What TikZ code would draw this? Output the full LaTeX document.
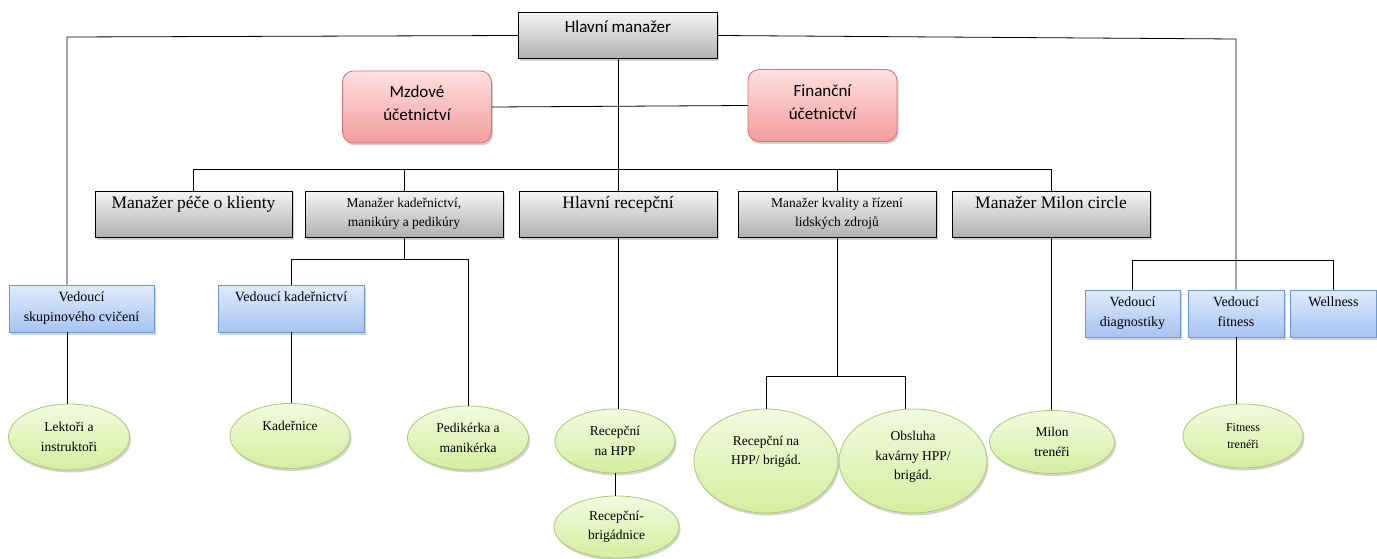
\documentclass[tikz,border=0pt]{standalone}
\usepackage{fontspec}
\setmainfont{Liberation Serif}
\newfontfamily\timesf{Liberation Serif}
\newfontfamily\calibri{Carlito}
\usetikzlibrary{shapes.geometric,shadows}

\definecolor{greytop}{HTML}{F4F4F4}
\definecolor{greybot}{HTML}{B0B0B0}
\definecolor{pinktop}{HTML}{FFE0E0}
\definecolor{pinkbot}{HTML}{F29C9C}
\definecolor{pinkline}{HTML}{D8726F}
\definecolor{bluetop}{HTML}{E0EBFC}
\definecolor{bluebot}{HTML}{A6C3F0}
\definecolor{blueline}{HTML}{6B97D4}
\definecolor{greentop}{HTML}{F2FAE0}
\definecolor{greenbot}{HTML}{D4EE9E}
\definecolor{greenline}{HTML}{A9CB6E}

\tikzset{
  shadowed/.style={drop shadow={shadow xshift=1.5pt, shadow yshift=-2.5pt, opacity=0.35}},
  greybox/.style={rectangle, draw=black, line width=0.8pt, top color=greytop, bottom color=greybot, minimum height=46pt, inner sep=0pt, shadowed},
  pinkbox/.style={rectangle, rounded corners=11pt, draw=pinkline, line width=0.8pt, top color=pinktop, bottom color=pinkbot, minimum width=149pt, minimum height=72pt, inner sep=0pt, shadowed},
  bluebox/.style={rectangle, draw=blueline, line width=0.8pt, top color=bluetop, bottom color=bluebot, minimum height=47pt, inner sep=0pt, shadowed},
  oval/.style={ellipse, draw=greenline, line width=0.8pt, top color=greentop, bottom color=greenbot, inner sep=0pt, shadowed},
  toptxt/.style={anchor=north, align=center, inner sep=2pt},
  midtxt/.style={anchor=center, align=center, inner sep=2pt},
  fcal/.style={font=\calibri\fontsize{17}{23}\selectfont},
  fbig/.style={font=\timesf\fontsize{17.5}{21}\selectfont},
  fsml/.style={font=\timesf\fontsize{13.5}{19.5}\selectfont},
  fblue/.style={font=\timesf\fontsize{14}{20}\selectfont},
  fov/.style={font=\timesf\fontsize{13.5}{19.5}\selectfont},
  ftiny/.style={font=\timesf\fontsize{12}{17}\selectfont},
  link/.style={draw=black, line width=0.8pt}
}

\begin{document}
\begin{tikzpicture}[x=1pt, y=-1pt]
    \useasboundingbox (0,0) rectangle (1377,559);

    \node[greybox, minimum width=199pt, label={[toptxt, fcal, yshift=-6pt]north:Hlavní manažer}] at (618,35.5) (hm) {};
    \node[pinkbox, label={[midtxt, fcal, yshift=3.5pt]center:Mzdové\\účetnictví}] at (417,107) (mzd) {};
    \node[pinkbox, label={[midtxt, fcal, yshift=3.5pt]center:Finanční\\účetnictví}] at (822.5,105.5) (fin) {};

    \node[greybox, minimum width=197pt, label={[toptxt, fbig, yshift=-4pt]north:Manažer péče o klienty}] at (193.5,214) (pece) {};
    \node[greybox, minimum width=198pt, label={[toptxt, fsml, yshift=-5pt]north:Manažer kadeřnictví,\\manikúry a pedikúry}] at (404,214) (kad) {};
    \node[greybox, minimum width=198pt, label={[toptxt, fbig, yshift=-4pt]north:Hlavní recepční}] at (618,214) (hr) {};
    \node[greybox, minimum width=198pt, label={[toptxt, fsml, yshift=-5pt]north:Manažer kvality a řízení\\lidských zdrojů}] at (837,214) (kval) {};
    \node[greybox, minimum width=198pt, label={[toptxt, fbig, yshift=-4pt]north:Manažer Milon circle}] at (1051,214) (milon) {};

    \node[bluebox, minimum width=145pt, label={[toptxt, fblue, yshift=-4.5pt]north:Vedoucí\\skupinového cvičení}] at (81.5,308.5) (vsc) {};
    \node[bluebox, minimum width=146pt, label={[toptxt, fblue, yshift=-4.5pt]north:Vedoucí kadeřnictví}] at (291,308.5) (vk) {};
    \node[bluebox, minimum width=95pt, label={[toptxt, fblue, yshift=-4.5pt]north:Vedoucí\\diagnostiky}] at (1132.5,313.5) (vd) {};
    \node[bluebox, minimum width=96pt, label={[toptxt, fblue, yshift=-4.5pt]north:Vedoucí\\fitness}] at (1236,313.5) (vf) {};
    \node[bluebox, minimum width=86pt, label={[toptxt, fblue, yshift=-4.5pt]north:Wellness}] at (1333.5,313.5) (wel) {};

    \node[oval, minimum width=121pt, minimum height=66pt, label={[midtxt, fov]center:Lektoři a\\instruktoři}] at (69,437) (lektori) {};
    \node[oval, minimum width=120pt, minimum height=65pt, label={[midtxt, fov, yshift=10pt]center:Kadeřnice}] at (290,436) (kadernice) {};
    \node[oval, minimum width=121pt, minimum height=64pt, label={[midtxt, fov]center:Pedikérka a\\manikérka}] at (468,438) (pedik) {};
    \node[oval, minimum width=120pt, minimum height=64pt, label={[midtxt, fov]center:Recepční\\na HPP}] at (615,441) (rhpp) {};
    \node[oval, minimum width=125pt, minimum height=62pt, label={[midtxt, fov]center:Recepční-\\brigádnice}] at (616.5,527) (rbrig) {};
    \node[oval, minimum width=144pt, minimum height=104pt, label={[midtxt, fov, yshift=9pt]center:Recepční na\\HPP/ brigád.}] at (766,461) (rhb) {};
    \node[oval, minimum width=148pt, minimum height=104pt, label={[midtxt, fov, yshift=4pt]center:Obsluha\\kavárny HPP/\\brigád.}] at (913,461) (obs) {};
    \node[oval, minimum width=125pt, minimum height=63pt, label={[midtxt, fov]center:Milon\\trenéři}] at (1052,442) (mt) {};
    \node[oval, minimum width=120pt, minimum height=64pt, label={[midtxt, ftiny]center:Fitness\\trenéři}] at (1243,436) (ft) {};

    \coordinate (lt) at (67,37);
    \coordinate (rt) at (1236,39);
    \coordinate (bar1) at (617,169);
    \coordinate (bar2) at (407,259);
    \coordinate (bar3) at (837,376);
    \coordinate (bar4) at (1236,260);

    \draw[link] (hm.west) -- (lt) -- (lt |- vsc.north);
    \draw[link] (hm.east) -- (rt) -- (rt |- vf.north);
    \draw[link] (hm.south) -- (hr.north);
    \draw[link] (mzd.east) -- (fin.west);
    \draw[link] (pece.north) -- (pece.north |- bar1) -- (milon.north |- bar1) -- (milon.north);
    \draw[link] (kad.north) -- (kad.north |- bar1);
    \draw[link] (kval.north) -- (kval.north |- bar1);

    \draw[link] (lt |- vsc.south) -- (lt |- lektori.north);
    \draw[link] (kad.south) -- (kad.south |- bar2);
    \draw[link] (vk.north) -- (vk.north |- bar2) -- (pedik.north |- bar2) -- (pedik.north);
    \draw[link] (vk.south) -- (vk.south |- kadernice.north);
    \draw[link] (hr.south) -- (hr.south |- rhpp.north);
    \draw[link] (rhpp.south) -- (rhpp.south |- rbrig.north);
    \draw[link] (kval.south) -- (kval.south |- bar3);
    \draw[link] (rhb.north) -- (rhb.north |- bar3) -- ([xshift=-8pt]obs.north |- bar3) -- ([xshift=-8pt]obs.north);
    \draw[link] (milon.south) -- (milon.south |- mt.north);
    \draw[link] (vd.north) -- (vd.north |- bar4) -- (wel.north |- bar4) -- (wel.north);
    \draw[link] (vf.south) -- (vf.south |- ft.north);
\end{tikzpicture}
\end{document}
